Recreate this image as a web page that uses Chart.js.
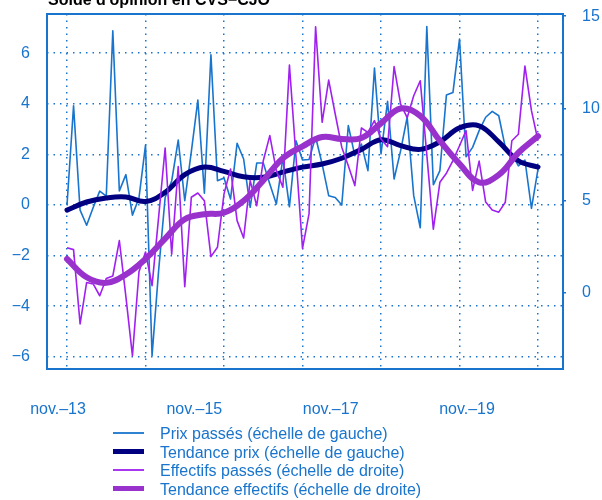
<!DOCTYPE html>
<html><head><meta charset="utf-8">
<script src="https://cdn.jsdelivr.net/npm/chart.js@4.4.1/dist/chart.umd.min.js"></script>
<style>html,body{margin:0;padding:0;background:#fff;}</style>
</head><body>
<canvas id="c" width="602" height="500"></canvas>
<script>
const chartTitle = "Solde d'opinion en CVS\u2212CJO";
const xTickLabels = ["nov.\u201313", "nov.\u201315", "nov.\u201317", "nov.\u201319"];
const xTickMonths = [0, 24, 48, 72];
const gridMonths = [0, 12, 24, 36, 48, 60, 72];
const leftTicks = [-6, -4, -2, 0, 2, 4, 6];
const rightTicks = [0, 5, 10, 15];
const legendLabels = [
  "Prix pass\u00e9s (\u00e9chelle de gauche)",
  "Tendance prix (\u00e9chelle de gauche)",
  "Effectifs pass\u00e9s (\u00e9chelle de droite)",
  "Tendance effectifs (\u00e9chelle de droite)"
];
// monthly values, nov-13 .. nov-19
const prixPasses = [0.0, 3.92, -0.2, -0.8, -0.1, 0.55, 0.35, 6.89, 0.56, 1.2,
  -0.4, 0.28, 2.37, -5.95, -2.6, 0.3, 0.95, 2.57, 0.17, 2.1,
  4.15, 0.47, 5.94, 0.96, 1.07, 0.24, 2.44, 1.82, -0.09, 1.66,
  1.66, 0.83, 0.04, 1.86, -0.07, 2.54, 1.78, 1.8, 2.69, 1.62,
  0.37, 0.3, 0.0, 3.14, 1.95, 2.41, 1.36, 5.41, 2.02, 4.1,
  1.03, 2.15, 3.47, 0.37, -0.9, 7.05, 0.8, 1.36, 4.35, 4.45,
  6.56, 1.91, 2.28, 2.94, 3.47, 3.7, 3.53, 2.28, 2.02, 1.55,
  1.78, -0.13, 1.42];
const effectifsPasses = [2.45, 2.35, -1.68, 0.57, 0.49, -0.15, 0.78, 0.92, 2.84, -0.2,
  -3.4, 1.15, 2.22, 0.4, 4.1, 7.86, 2.1, 6.85, 0.34, 5.19,
  5.42, 5.0, 1.97, 2.48, 5.37, 6.72, 3.92, 2.98, 6.09, 4.73,
  7.17, 8.53, 6.63, 5.73, 12.35, 7.4, 2.42, 4.3, 14.43, 9.25,
  11.54, 9.7, 7.9, 6.9, 5.82, 8.94, 8.7, 9.34, 8.35, 7.93,
  12.27, 10.24, 9.5, 10.69, 11.5, 7.5, 3.46, 6.0, 6.49, 7.17,
  7.98, 8.8, 5.56, 7.15, 4.93, 4.5, 4.38, 4.92, 8.25, 8.6,
  12.3, 9.88, 8.25];
// trends read every 3 months
const trendMonths = [0, 3, 6, 9, 12, 15, 18, 21, 24, 27, 30, 33, 36, 39, 42, 45, 48, 51, 54, 57, 60, 63, 66, 69, 72];
const tendancePrix = [-0.2, 0.12, 0.28, 0.32, 0.14, 0.5, 1.2, 1.5, 1.33, 1.12, 1.1, 1.3, 1.5, 1.62, 1.85, 2.2, 2.58, 2.35, 2.2, 2.5, 3.05, 3.13, 2.5, 1.75, 1.5];
const tendanceEffectifs = [1.84, 0.85, 0.55, 1.0, 1.85, 2.95, 4.0, 4.27, 4.35, 5.0, 6.1, 7.3, 7.95, 8.45, 8.35, 8.4, 9.2, 10.0, 9.6, 8.25, 7.0, 6.0, 6.4, 7.6, 8.5];

const BLUE = 'rgb(24,116,205)';
const NAVY = '#000080';
const PURPLE = '#A020F0';
const ORCHID = '#9932CC';
const FONT = 'Liberation Sans, Arial, sans-serif';

const toXY = (arr, xs) => arr.map((v, i) => ({x: xs ? xs[i] : i, y: v}));
const fmt = v => v < 0 ? '\u2212' + (-v) : '' + v;
const noPad = s => { s.paddingTop = 0; s.paddingBottom = 0; s.paddingLeft = 0; s.paddingRight = 0; };

const decor = {
  id: 'decor',
  afterDraw(chart) {
    const ctx = chart.ctx, a = chart.chartArea;
    ctx.save();
    ctx.strokeStyle = BLUE; ctx.lineWidth = 2;
    ctx.strokeRect(a.left, a.top, a.right - a.left, a.bottom - a.top);
    ctx.fillStyle = '#000';
    ctx.font = 'bold 16px ' + FONT;
    ctx.textBaseline = 'alphabetic';
    ctx.fillText(chartTitle, 48, 4.5);
    const rows = [433, 451.5, 470, 488.5];
    const styles = [[BLUE, 1.8], [NAVY, 5], [PURPLE, 1.8], [ORCHID, 5]];
    ctx.font = '16px ' + FONT;
    rows.forEach((y, k) => {
      ctx.strokeStyle = styles[k][0]; ctx.lineWidth = styles[k][1];
      ctx.beginPath(); ctx.moveTo(113, y); ctx.lineTo(144, y); ctx.stroke();
      ctx.fillStyle = BLUE;
      ctx.fillText(legendLabels[k], 160, y + 6);
    });
    ctx.restore();
  }
};

new Chart(document.getElementById('c'), {
  type: 'line',
  data: {
    datasets: [
      {label: legendLabels[0], data: toXY(prixPasses), yAxisID: 'y', borderColor: BLUE, borderWidth: 1.6, pointRadius: 0, tension: 0, order: 4, borderJoinStyle: 'round'},
      {label: legendLabels[1], data: toXY(tendancePrix, trendMonths), yAxisID: 'y', borderColor: NAVY, borderWidth: 5, pointRadius: 0, tension: 0.4, order: 3, borderCapStyle: 'round'},
      {label: legendLabels[2], data: toXY(effectifsPasses), yAxisID: 'y2', borderColor: PURPLE, borderWidth: 1.6, pointRadius: 0, tension: 0, order: 2, borderJoinStyle: 'round'},
      {label: legendLabels[3], data: toXY(tendanceEffectifs, trendMonths), yAxisID: 'y2', borderColor: ORCHID, borderWidth: 6, pointRadius: 0, tension: 0.4, order: 1, borderCapStyle: 'round'}
    ]
  },
  options: {
    responsive: false,
    animation: false,
    devicePixelRatio: 1,
    layout: {padding: {top: 14, left: 0, right: 0, bottom: 0}},
    plugins: {legend: {display: false}, tooltip: {enabled: false}, title: {display: false}},
    scales: {
      x: {
        type: 'linear', position: 'bottom', min: -3.06, max: 75.82,
        afterBuildTicks: s => { s.ticks = gridMonths.map(v => ({value: v})); },
        afterFit: s => { s.height = 0; noPad(s); },
        ticks: {display: false},
        grid: {color: BLUE, lineWidth: 1.5, drawTicks: false},
        border: {display: false, dash: [1.5, 5]}
      },
      xl: {
        type: 'linear', position: 'bottom', min: -1.94, max: 88.9,
        afterBuildTicks: s => { s.ticks = xTickMonths.map(v => ({value: v})); },
        afterFit: s => { s.height = 131; noPad(s); },
        ticks: {autoSkip: false, maxRotation: 0, padding: 31, color: BLUE, font: {family: FONT, size: 16},
          callback: v => { const k = xTickMonths.indexOf(v); return k >= 0 ? xTickLabels[k] : ''; }},
        grid: {display: false, drawTicks: false},
        border: {display: false}
      },
      y: {
        type: 'linear', position: 'left', min: -6.48, max: 7.55,
        afterBuildTicks: s => { s.ticks = leftTicks.map(v => ({value: v})); },
        afterFit: s => { s.width = 47; noPad(s); },
        ticks: {padding: 17, color: BLUE, font: {family: FONT, size: 16}, callback: v => fmt(v)},
        grid: {color: BLUE, lineWidth: 1.5, drawTicks: false},
        border: {display: false, dash: [1.5, 5]}
      },
      y2: {
        type: 'linear', position: 'right', min: -4.12, max: 15.12,
        afterBuildTicks: s => { s.ticks = rightTicks.map(v => ({value: v})); },
        afterFit: s => { s.width = 39; noPad(s); },
        ticks: {padding: 16, color: BLUE, font: {family: FONT, size: 16}, callback: v => fmt(v)},
        grid: {drawOnChartArea: false, drawTicks: true, tickLength: 3, color: BLUE, lineWidth: 1.5},
        border: {display: false}
      }
    }
  },
  plugins: [decor]
});
</script>
</body></html>
